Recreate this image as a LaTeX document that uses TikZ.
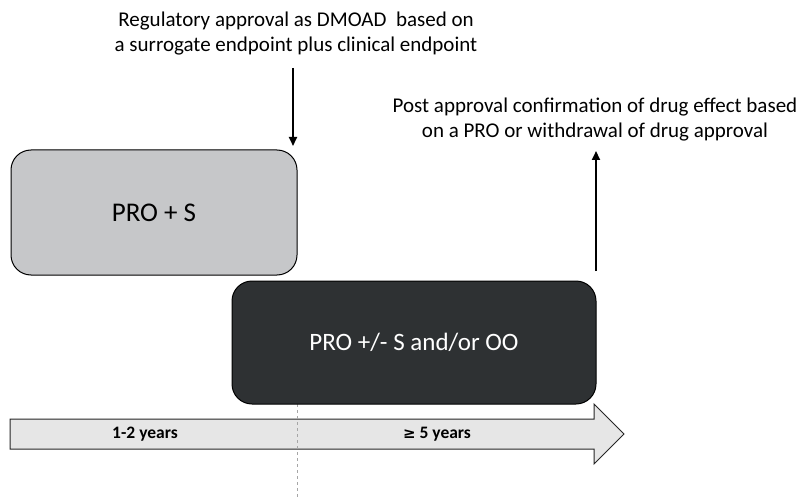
\documentclass[tikz,border=0pt]{standalone}
\usepackage{fontspec}
\setmainfont{Carlito}
\newfontfamily\symfont{DejaVu Sans}
\usetikzlibrary{arrows.meta}
\definecolor{boxlight}{HTML}{C6C7C9}
\definecolor{boxdark}{HTML}{2E3133}
\definecolor{barfill}{HTML}{E6E6E6}
\tikzset{
  phasebox/.style={draw=black, line width=1pt, rounded corners=20pt},
  note/.style={align=center, font=\fontsize{21}{25}\selectfont, inner sep=0pt},
  milestone/.style={line width=2pt, -{Triangle[length=9pt,width=8pt]}},
  yearlabel/.style={font=\fontsize{17.5}{20}\selectfont\bfseries, inner sep=0pt}
}
\begin{document}
\begin{tikzpicture}[x=1pt,y=-1pt]
\useasboundingbox (0,0) rectangle (802,497);
% timeline arrow
\draw[line width=1pt, fill=barfill, draw=black!85]
  (10,419) -- (594,419) -- (594,404) -- (624,434) -- (594,464) -- (594,449) -- (10,449) -- cycle;
\node[yearlabel] (t1) at (145,434) {1-2 years};
\node[yearlabel] (t2) at (437,434) {{\symfont\fontsize{15}{18}\selectfont ≥} 5 years};
% boundary between phases
\coordinate (dtop) at (297,404);
\coordinate (dbot) at (297,497);
\draw[gray!70, dashed, line width=0.8pt] (dtop) -- (dbot);
% phase boxes
\node[phasebox, fill=boxlight, minimum width=286pt, minimum height=125pt,
      font=\fontsize{27}{30}\selectfont] (p1) at (154,212.5) {PRO + S};
\node[phasebox, fill=boxdark, minimum width=364pt, minimum height=123pt,
      text=white, font=\fontsize{25}{30}\selectfont] (p2) at (414,342.5) {PRO +/- S and/or OO};
% approval notes
\node[note] (n1) at (296,33.5) {Regulatory approval as DMOAD\ \ based on\\a surrogate endpoint plus clinical endpoint};
\node[note] (n2) at (595,119.5) {Post approval confirmation of drug effect based\\on a PRO or withdrawal of drug approval};
\coordinate (a1s) at (293,68);
\coordinate (a1e) at (293,146);
\draw[milestone] (a1s) -- (a1e);
\coordinate (a2s) at (596,271);
\coordinate (a2e) at (596,151);
\draw[milestone] (a2s) -- (a2e);
\end{tikzpicture}
\end{document}
